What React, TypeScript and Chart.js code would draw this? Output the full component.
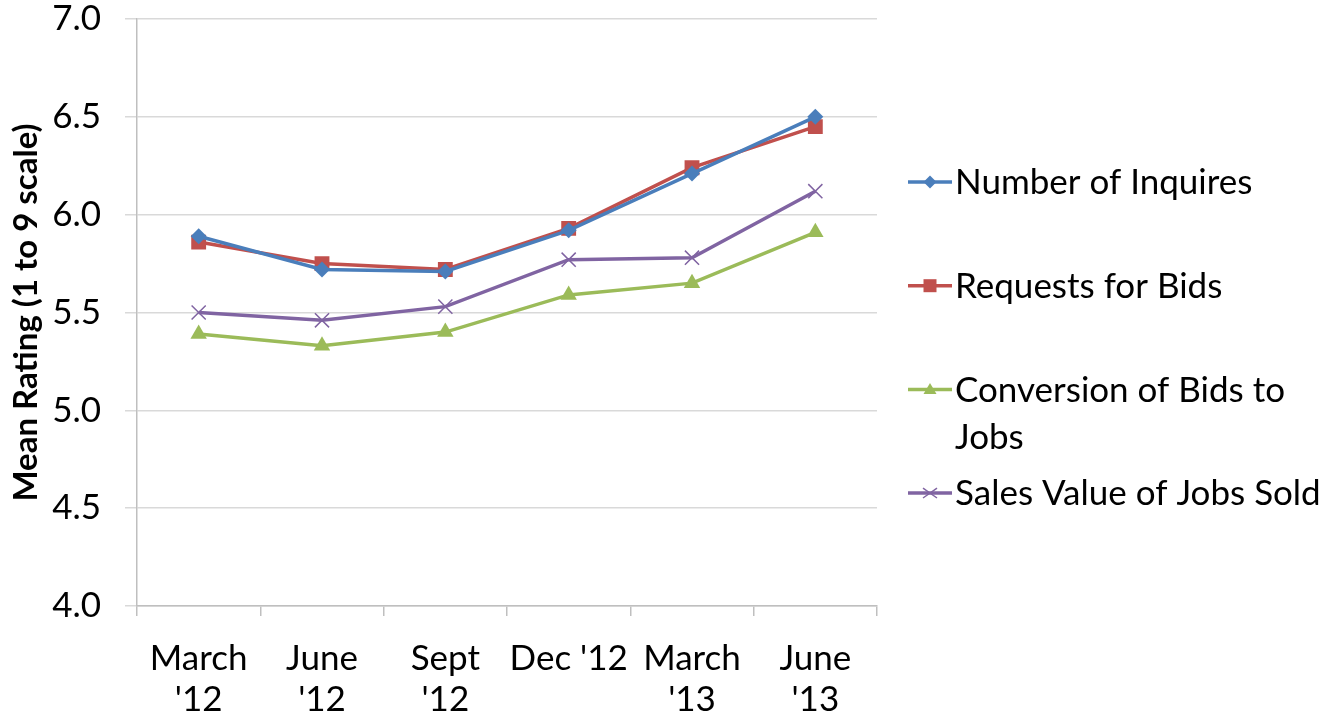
import React, { useEffect, useRef } from "react";
import { Chart, registerables } from "chart.js";

Chart.register(...registerables);

const categories: (string | string[])[] = [
  ["March", "'12"],
  ["June", "'12"],
  ["Sept", "'12"],
  "Dec '12",
  ["March", "'13"],
  ["June", "'13"],
];

const seriesNames = [
  "Number of Inquires",
  "Requests for Bids",
  "Conversion of Bids to Jobs",
  "Sales Value of Jobs Sold",
];

const legendLines: string[][] = [
  ["Number of Inquires"],
  ["Requests for Bids"],
  ["Conversion of Bids to", "Jobs"],
  ["Sales Value of Jobs Sold"],
];

const numberOfInquires = [5.89, 5.72, 5.71, 5.92, 6.21, 6.5];
const requestsForBids = [5.86, 5.75, 5.72, 5.93, 6.24, 6.45];
const conversionOfBids = [5.39, 5.33, 5.4, 5.59, 5.65, 5.91];
const salesValue = [5.5, 5.46, 5.53, 5.77, 5.78, 6.12];

const yMin = 4.0;
const yMax = 7.0;
const yStep = 0.5;
const yTitle = "Mean Rating (1 to 9 scale)";

const colors = ["#4A7EBB", "#C0504D", "#9BBB59", "#8064A2"];
const styles = ["rectRot", "rect", "triangle", "crossRot"];
const radii = [8, 10.5, 9.5, 10];

const FONT = "Lato, 'Open Sans', sans-serif";

function drawMarker(ctx: CanvasRenderingContext2D, style: string, x: number, y: number, r: number, color: string) {
  ctx.save();
  ctx.fillStyle = color;
  ctx.strokeStyle = color;
  ctx.beginPath();
  if (style === "rectRot") {
    ctx.moveTo(x, y - r);
    ctx.lineTo(x + r, y);
    ctx.lineTo(x, y + r);
    ctx.lineTo(x - r, y);
    ctx.closePath();
    ctx.fill();
  } else if (style === "rect") {
    ctx.rect(x - r, y - r, 2 * r, 2 * r);
    ctx.fill();
  } else if (style === "triangle") {
    ctx.moveTo(x, y - r);
    ctx.lineTo(x + r, y + r * 0.7);
    ctx.lineTo(x - r, y + r * 0.7);
    ctx.closePath();
    ctx.fill();
  } else {
    ctx.lineWidth = 1.5;
    ctx.moveTo(x - r, y - r * 0.7);
    ctx.lineTo(x + r, y + r * 0.7);
    ctx.moveTo(x - r, y + r * 0.7);
    ctx.lineTo(x + r, y - r * 0.7);
    ctx.stroke();
  }
  ctx.restore();
}

const legendPlugin = {
  id: "customLegend",
  afterDraw(chart: any) {
    const ctx: CanvasRenderingContext2D = chart.ctx;
    const x0 = chart.chartArea.right + 31;
    const x1 = x0 + 44;
    const textX = x1 + 3;
    const startY = 182;
    const rowGap = 103.7;
    const lineGap = 47;
    ctx.save();
    ctx.font = `35px ${FONT}`;
    ctx.textBaseline = "middle";
    ctx.textAlign = "left";
    chart.data.datasets.forEach((ds: any, i: number) => {
      const y = startY + i * rowGap;
      ctx.strokeStyle = colors[i];
      ctx.lineWidth = 3.5;
      ctx.beginPath();
      ctx.moveTo(x0, y);
      ctx.lineTo(x1, y);
      ctx.stroke();
      drawMarker(ctx, styles[i], (x0 + x1) / 2, y, i === 3 ? 7 : 6.5, colors[i]);
      ctx.fillStyle = "#000000";
      legendLines[i].forEach((line, j) => {
        ctx.fillText(line, textX, y + 1 + j * lineGap);
      });
    });
    ctx.restore();
  },
};

export default function App() {
  const ref = useRef<HTMLCanvasElement>(null);

  useEffect(() => {
    if (!ref.current) return;
    const seriesData = [numberOfInquires, requestsForBids, conversionOfBids, salesValue];
    const chart = new Chart(ref.current, {
      type: "line",
      data: {
        labels: categories as any,
        datasets: seriesNames.map((name, i) => ({
          label: name,
          data: seriesData[i],
          borderColor: colors[i],
          backgroundColor: colors[i],
          borderWidth: 3.5,
          pointStyle: styles[i] as any,
          pointRadius: radii[i],
          pointBorderWidth: i === 3 ? 1.5 : 0,
          pointBorderColor: colors[i],
          pointBackgroundColor: colors[i],
          tension: 0,
          fill: false,
        })),
      },
      options: {
        responsive: false,
        animation: false,
        layout: { padding: { top: 19, right: 455, left: 0, bottom: 0 } },
        plugins: {
          legend: { display: false },
          tooltip: { enabled: false },
        },
        scales: {
          x: {
            offset: true,
            grid: {
              offset: true,
              drawOnChartArea: false,
              drawTicks: true,
              tickLength: 10,
              color: "#BFBFBF",
              lineWidth: 1.5,
            },
            border: { color: "#BFBFBF", width: 1.5 },
            ticks: {
              color: "#000000",
              font: { family: FONT, size: 35, lineHeight: 1.17 },
              padding: 22,
              maxRotation: 0,
              autoSkip: false,
            },
            afterFit(scale: any) {
              scale.height = 112;
              scale.paddingLeft = 0;
              scale.paddingRight = 0;
            },
          },
          y: {
            min: yMin,
            max: yMax,
            grid: {
              color: "#D9D9D9",
              lineWidth: 1.5,
              tickLength: 12,
            },
            border: { color: "#BFBFBF", width: 1.5 },
            ticks: {
              stepSize: yStep,
              color: "#000000",
              font: { family: FONT, size: 35 },
              padding: 24,
              callback: (v: any) => Number(v).toFixed(1),
            },
            title: {
              display: true,
              text: yTitle,
              color: "#000000",
              font: { family: FONT, size: 33, weight: "bold" },
              padding: { top: 7, bottom: 0 },
            },
            afterFit(scale: any) {
              scale.width = 137;
              scale.paddingTop = 0;
              scale.paddingBottom = 0;
            },
          },
        },
      },
      plugins: [legendPlugin],
    });
    return () => chart.destroy();
  }, []);

  return (
    <div style={{ position: "fixed", left: 0, top: 0, width: 1332, height: 718, background: "#ffffff" }}>
      <canvas ref={ref} width={1332} height={718} style={{ width: 1332, height: 718, display: "block" }} />
    </div>
  );
}
